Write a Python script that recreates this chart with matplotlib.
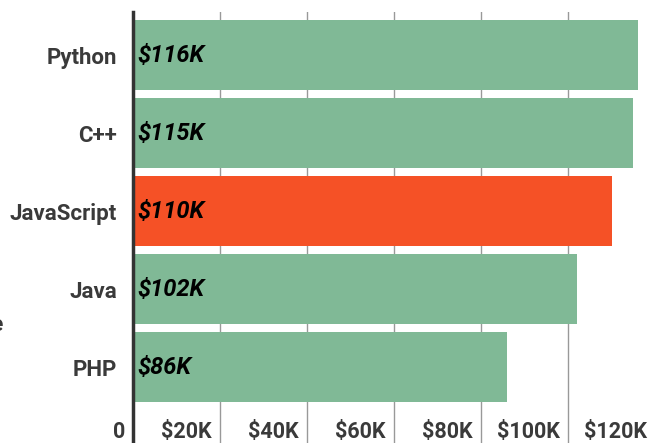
import matplotlib.pyplot as plt
from matplotlib.transforms import ScaledTranslation

languages = ["Python", "C++", "JavaScript", "Java", "PHP"]
salaries = [116, 115, 110, 102, 86]  # thousands of USD
value_labels = ["$116K", "$115K", "$110K", "$102K", "$86K"]
highlight = "JavaScript"
xticks = [0, 20, 40, 60, 80, 100, 120]
xtick_labels = ["0", "$20K", "$40K", "$60K", "$80K", "$100K", "$120K"]

GREEN = "#80b996"
ORANGE = "#f55126"
TEXT = "#3a3a3a"

plt.rcParams["font.family"] = ["Roboto", "DejaVu Sans"]

fig = plt.figure(figsize=(6.48, 4.43), dpi=100)
# axes reaches past the right edge, the reference is cropped there
ax = fig.add_axes([133 / 648, 0, (655 - 133) / 648, (443 - 12) / 443])

colors = [ORANGE if lang == highlight else GREEN for lang in languages]
ax.barh(languages, salaries, height=0.9, color=colors, zorder=2)

for i, lab in enumerate(value_labels):
    ax.annotate(lab, (0, i), xytext=(4, 0), textcoords="offset pixels",
                ha="left", va="center", fontsize=17, fontweight="bold",
                fontstyle="italic", color="black", zorder=3)

ax.set_xlim(0, 120)
ax.set_ylim(4.97, -0.553)

ax.set_xticks(xticks)
ax.set_xticklabels(xtick_labels)
ax.tick_params(axis="x", length=0, pad=-16, labelsize=15.5, labelcolor=TEXT)
ax.tick_params(axis="y", length=0, pad=11.5, labelsize=16, labelcolor=TEXT)
for t in ax.get_yticklabels() + ax.get_xticklabels():
    t.set_fontweight(600)
shift = ScaledTranslation(-8 / 100, 0, fig.dpi_scale_trans)
for t in ax.get_xticklabels():
    t.set_ha("right")
    t.set_transform(t.get_transform() + shift)

ax.grid(axis="x", color="#999999", linewidth=1)
ax.set_axisbelow(True)
for side in ["top", "right", "bottom"]:
    ax.spines[side].set_visible(False)
ax.spines["left"].set_color("#333333")
ax.spines["left"].set_linewidth(2.5)
ax.spines["left"].set_zorder(4)

fig.text(4 / 648, 1 - 325 / 443, "Language", ha="right", va="center",
         fontsize=16, fontweight=600, color=TEXT)

fig.savefig("out.png", dpi=100)
